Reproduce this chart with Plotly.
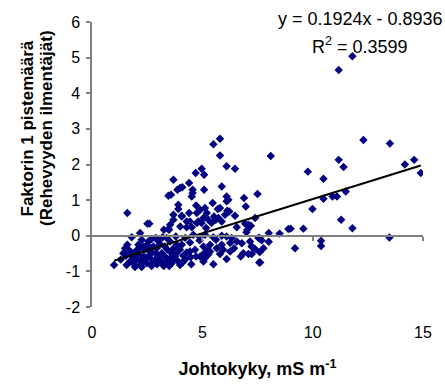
import plotly.graph_objects as go

# Conductivity (mS/m) and factor 1 score
conductivity = [
    11.8, 11.18, 12.3, 13.5, 8.1, 11.18, 11.4, 9.78, 14.18, 14.6, 14.9, 10.49, 10.49, 10.9, 11.1, 11.5, 9.99, 11.29,
    11.8, 9.58, 10.38, 10.38, 13.48,
    7.5, 7.39, 7.2, 8.01, 8.5, 8.9, 9.0, 9.2, 8.01, 7.6, 7.69, 7.24, 7.39, 7.6, 7.77, 7.58, 7.24,
    5.8, 6.1, 6.48, 4.97, 4.7, 5.08, 3.69, 4.4, 3.58, 3.87, 3.99, 4.56, 4.56, 5.08, 5.88, 6.1, 6.18, 5.47, 6.89, 6.97,
    5.5, 5.8, 4.09, 6.1, 6.48, 7.0, 3.46, 3.46, 3.91, 4.52, 5.8, 3.26, 3.54, 4.07, 4.75, 5.17, 5.42, 5.73, 6.03, 5.05, 4.29,
    1.6, 2.51, 2.6, 3.91, 3.69, 3.69, 4.07, 4.0, 4.4, 4.44, 4.29, 4.52, 4.72, 4.75, 4.9, 5.12, 5.2, 4.82, 4.97, 5.27,
    5.53, 5.61, 5.7, 5.88, 6.13, 6.22, 6.56, 6.94, 7.09, 7.04, 3.49, 2.18, 1.8, 2.7, 2.89, 3.2, 3.8, 4.59, 4.9, 5.12,
    5.5, 5.88, 6.1, 6.33, 7.54, 6.26, 6.44, 6.74, 6.86, 7.09, 7.62, 6.1, 5.8, 5.5, 5.08, 5.12, 5.2, 5.05, 5.35, 5.62,
    5.65, 4.47, 4.29, 4.14, 3.99, 3.91, 3.76, 3.61, 3.41, 3.31, 3.08, 2.9, 2.7, 2.55, 2.33, 2.25, 2.1, 2.0, 1.8, 1.87,
    1.65, 1.6, 1.54, 1.3, 1.0, 1.72, 2.02, 2.48, 2.86, 3.16, 3.41, 3.69, 4.67, 4.72, 4.87, 4.44, 4.07, 3.54, 3.08, 2.78,
    2.55, 2.33, 2.25, 5.27, 4.44, 3.61, 3.16, 2.63, 2.1, 2.4, 2.93, 3.84, 4.22, 3.38, 5.88, 5.95, 6.26, 6.56, 6.79, 7.16,
    7.24, 5.35, 4.9, 5.05, 3.99, 2.18, 1.57, 1.42, 1.5, 3.0, 2.78, 3.54, 3.84, 4.22,
    1.9, 2.2, 2.45, 2.65, 2.95, 3.25, 1.75, 2.15, 2.5, 3.0, 3.3, 3.7, 4.1, 4.5, 2.3, 1.95, 2.7, 3.5,
]
factor1 = [
    5.04, 4.65, 2.69, 2.59, 2.24, 2.13, 1.93, 1.80, 2.0, 2.13, 1.76, 1.60, 1.04, 1.10, 1.10, 1.24, 0.75, 0.45,
    0.21, 0.20, -0.14, -0.29, -0.05,
    1.17, 0.50, 0.28, 0.08, 0.06, 0.19, 0.20, -0.35, -0.17, -0.06, -0.13, -0.30, -0.37, -0.46, -0.35, -0.75, -0.51,
    2.25, 1.95, 1.88, 1.88, 1.76, 1.71, 1.57, 1.48, 1.15, 1.29, 1.34, 1.29, 1.2, 1.29, 1.38, 1.1, 1.01, 0.92, 1.06, 0.82,
    2.57, 2.72, 1.36, 0.97, 0.56, 0.10, 1.12, 0.19, 0.87, 1.1, 0.78, 0.17, 0.31, 0.56, 0.36, 0.22, 0.36, 0.50, 0.59, 0.5, 0.40,
    0.64, 0.34, 0.34, 0.75, 0.59, 0.45, 0.54, 0.26, 0.64, 0.40, 0.24, 0.24, 0.85, 0.64, 0.73, 0.78, 0.64, 0.40, 0.36, 0.45,
    0.54, 0.45, 0.75, 0.40, 0.70, 0.68, 0.24, 0.34, 0.31, 0.17, 0.17, 0.08, -0.04, -0.09, -0.06, -0.04, -0.02, 0.03, -0.04, 0.03,
    -0.04, 0.0, -0.02, -0.06, -0.06, -0.2, -0.35, -0.58, -0.49, -0.51, -0.75, -0.65, -0.51, -0.80, -0.49, -0.63, -0.39, -0.30, -0.25, -0.11,
    -0.35, -0.60, -0.47, -0.56, -0.39, -0.72, -0.58, -0.77, -0.39, -0.58, -0.72, -0.49, -0.67, -0.39, -0.58, -0.88, -0.25, -0.42, -0.56, -0.77,
    -0.39, -0.25, -0.56, -0.67, -0.82, -0.72, -0.67, -0.77, -0.67, -0.72, -0.72, -0.67, -0.39, -0.58, -0.13, -0.19, -0.25, -0.16, -0.23, -0.30,
    -0.16, -0.30, -0.11, -0.53, -0.44, -0.49, -0.49, -0.53, -0.53, -0.39, -0.35, -0.25, -0.06, -0.06, -0.25, -0.39, -0.44, -0.16, -0.21, -0.16,
    -0.30, -0.44, -0.58, -0.72, -0.82, -0.82, -0.82, -0.49, -0.35, -0.58, -0.77, -0.63, -0.49, -0.67,
    -0.6, -0.7, -0.62, -0.45, -0.8, -0.85, -0.45, -0.35, -0.25, -0.15, -0.3, -0.35, -0.75, -0.8, -0.75, -0.88, -0.85, -0.85,
]

# Linear trend coefficients shown on the chart
slope = 0.1924
intercept = -0.8936
r_squared = 0.3599

x_ticks = [0, 5, 10, 15]
x_tick_labels = ["0", "5", "10", "15"]
y_ticks = [-2, -1, 0, 1, 2, 3, 4, 5, 6]
y_tick_labels = ["-2", "-1", "0", "1", "2", "3", "4", "5", "6"]

FONT = "Liberation Sans, Arial, Helvetica, sans-serif"
AXIS_COLOR = "#808080"

x_lo, x_hi = min(conductivity), max(conductivity)
trend_x = [x_lo, x_hi]
trend_y = [slope * v + intercept for v in trend_x]

fig = go.Figure()
fig.add_trace(go.Scatter(
    x=conductivity, y=factor1, mode="markers",
    marker=dict(symbol="diamond", size=6.5, color="#000080", line=dict(width=0)),
    showlegend=False, hoverinfo="x+y",
))
fig.add_trace(go.Scatter(
    x=trend_x, y=trend_y, mode="lines",
    line=dict(color="black", width=2), showlegend=False, hoverinfo="skip",
))
# invisible trace on the overlaid axis so that it is drawn
fig.add_trace(go.Scatter(x=[0], y=[0], xaxis="x2", mode="markers",
                         marker=dict(opacity=0), showlegend=False, hoverinfo="skip"))

fig.update_layout(
    width=445, height=389,
    margin=dict(l=92, r=22, t=22, b=82, autoexpand=False),
    paper_bgcolor="white", plot_bgcolor="white",
    font=dict(family=FONT, size=15, color="black"),
    xaxis=dict(
        range=[0, 15], tickvals=x_ticks, ticktext=x_tick_labels, showgrid=False, zeroline=False,
        showline=False, ticks="", ticklabelstandoff=14,
        tickfont=dict(size=16),
        title=dict(text="<b>Johtokyky, mS m<sup>-1</sup></b>", font=dict(size=18), standoff=22),
    ),
    xaxis2=dict(
        range=[0, 15], tickvals=[5, 10, 15], overlaying="x", anchor="free", position=0.25,
        showgrid=False, zeroline=False, showline=True, linecolor=AXIS_COLOR, linewidth=1.5,
        ticks="outside", ticklen=4, tickcolor=AXIS_COLOR, tickwidth=1.5, showticklabels=False,
    ),
    yaxis=dict(
        range=[-2, 6], tickvals=y_ticks, ticktext=y_tick_labels, showgrid=False, zeroline=False,
        showline=True, linecolor=AXIS_COLOR, linewidth=1.5,
        ticks="outside", ticklen=4, tickcolor=AXIS_COLOR, tickwidth=1.5,
        tickfont=dict(size=16), ticklabelstandoff=3, domain=[0, 1],
    ),
    annotations=[
        dict(text="<b>Faktorin 1 pistemäärä</b>", textangle=-90, xref="paper", yref="paper",
             x=-0.195, y=0.628, xanchor="center", yanchor="middle", showarrow=False,
             font=dict(size=17)),
        dict(text="<b>(Rehevyyden ilmentäjät)</b>", textangle=-90, xref="paper", yref="paper",
             x=-0.139, y=0.628, xanchor="center", yanchor="middle", showarrow=False,
             font=dict(size=17)),
        dict(text=f"y = {slope}x - {abs(intercept)}", xref="paper", yref="paper",
             x=0.81, y=1.0105, xanchor="center", yanchor="middle", showarrow=False,
             font=dict(size=18)),
        dict(text=f"R<sup>2</sup> = {r_squared}", xref="paper", yref="paper",
             x=0.81, y=0.9175, xanchor="center", yanchor="middle", showarrow=False,
             font=dict(size=18)),
    ],
)

fig.write_html("out.html")
